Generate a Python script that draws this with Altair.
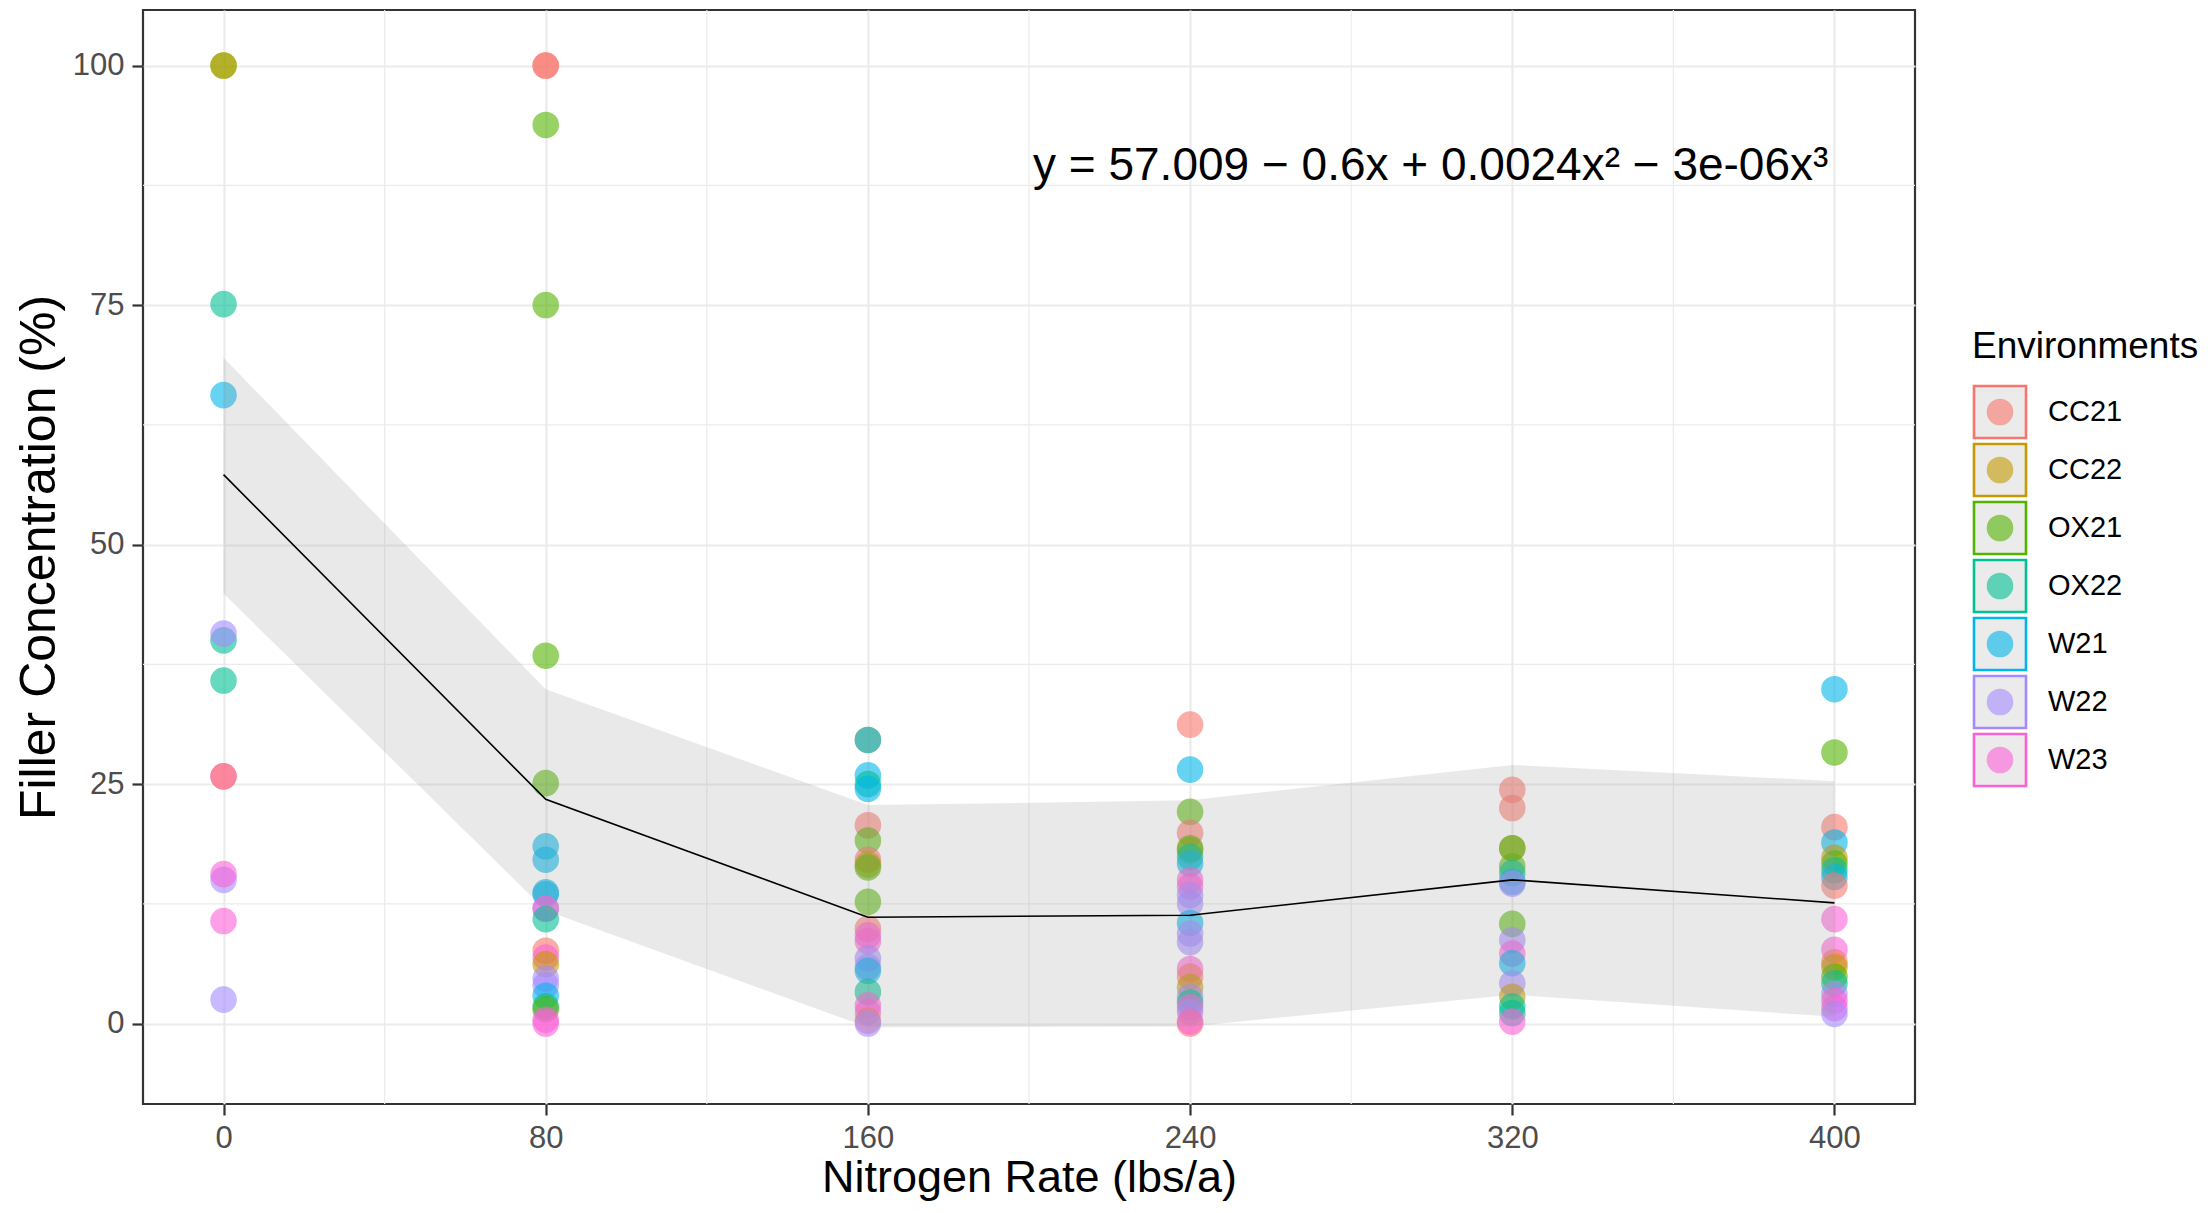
import altair as alt
import pandas as pd

# ---------------- data ----------------
envs = ["CC21", "CC22", "OX21", "OX22", "W21", "W22", "W23"]
env_colors = ["#F8766D", "#C49A00", "#53B400", "#00C094", "#00B6EB", "#A58AFF", "#FB61D7"]

rates = [0, 80, 160, 240, 320, 400]

r0_env = ["OX21", "CC22", "OX22", "W21", "OX22", "W22", "OX22", "W23", "CC21", "W22", "W23", "W23", "W22"]
r0_val = [100, 100, 75.1, 65.6, 40.0, 40.7, 35.8, 25.8, 25.8, 15.0, 15.6, 10.7, 2.5]

r80_env = ["CC21", "CC21", "OX21", "OX21", "OX21", "OX21", "W21", "W21", "W21", "W21", "W22", "W23",
           "OX22", "CC21", "W23", "CC22", "W22", "W22", "W21", "OX22", "OX21", "W23", "W23"]
r80_val = [100, 100, 93.8, 75.0, 38.4, 25.1, 18.5, 17.1, 13.7, 13.5, 12.0, 12.0,
           10.9, 7.6, 6.9, 6.2, 4.7, 4.0, 2.9, 1.8, 1.5, 0.4, 0.0]

r160_env = ["CC22", "W21", "W21", "OX22", "W21", "CC21", "OX21", "CC21", "CC22", "OX21", "OX21", "CC21",
            "W23", "W23", "W22", "W22", "W21", "OX22", "W23", "W23", "CC21", "W22"]
r160_val = [29.6, 29.6, 25.9, 25.0, 24.5, 20.7, 19.1, 17.1, 16.6, 16.3, 12.7, 9.9,
            9.2, 8.6, 6.8, 5.9, 5.5, 3.3, 1.9, 1.2, 0.3, 0.0]

r240_env = ["CC21", "W21", "OX21", "CC21", "CC22", "OX21", "OX22", "W21", "W23", "W23", "W22", "W22",
            "W21", "W22", "W22", "W23", "CC21", "CC22", "W22", "OX22", "W23", "W22", "CC21", "W23"]
r240_val = [31.2, 26.5, 22.1, 19.9, 18.1, 18.3, 17.4, 16.7, 15.0, 14.3, 13.4, 12.5,
            10.5, 9.4, 8.5, 5.7, 4.9, 3.8, 2.8, 2.2, 1.7, 1.2, 0.0, 0.2]

r320_env = ["CC21", "CC21", "CC22", "OX21", "OX21", "OX22", "W21", "W22", "OX21", "W22", "W23", "W21",
            "W22", "CC22", "OX22", "OX22", "W23"]
r320_val = [24.4, 22.5, 18.3, 18.3, 16.4, 15.7, 14.8, 14.6, 10.4, 8.7, 7.3, 6.3,
            4.2, 2.8, 1.8, 1.1, 0.2]

r400_env = ["W21", "OX21", "CC21", "W21", "CC22", "OX21", "OX22", "W21", "CC21", "W23", "W23", "CC21",
            "CC22", "OX21", "OX22", "W22", "W23", "W23", "W22"]
r400_val = [34.9, 28.3, 20.5, 18.9, 17.3, 16.7, 16.0, 15.3, 14.4, 10.9, 7.7, 6.4,
            5.9, 4.9, 4.2, 3.1, 2.4, 1.6, 1.0]

# fitted curve and confidence band
fit_x = [0, 80, 160, 240, 320, 400]
fit_y = [57.3, 23.4, 11.1, 11.3, 15.0, 12.6]
fit_lo = [44.9, 11.8, -0.4, -0.3, 3.0, 0.7]
fit_hi = [69.5, 34.9, 22.8, 23.3, 27.0, 25.3]

equation = "y = 57.009 \u2212 0.6x + 0.0024x\u00b2 \u2212 3e-06x\u00b3"
eq_x = [201]
eq_y = [88.1]

x_major = [0, 80, 160, 240, 320, 400]
x_minor = [40, 120, 200, 280, 360]
y_major = [0, 25, 50, 75, 100]
y_minor = [12.5, 37.5, 62.5, 87.5]

# ---------------- tables ----------------
rows = []
for r, e_list, v_list in zip(rates, [r0_env, r80_env, r160_env, r240_env, r320_env, r400_env],
                             [r0_val, r80_val, r160_val, r240_val, r320_val, r400_val]):
    for e, v in zip(e_list, v_list):
        rows.append({"N": r, "F": v, "env": e})
pts = pd.DataFrame(rows)
fit = pd.DataFrame({"N": fit_x, "F": fit_y, "lo": fit_lo, "hi": fit_hi})
eq = pd.DataFrame({"N": eq_x, "F": eq_y, "t": [equation]})
xmin = pd.DataFrame({"N": x_minor})
ymin = pd.DataFrame({"F": y_minor})
leg = pd.DataFrame({"env": envs})

FONT = "Liberation Sans"
x_scale = alt.Scale(domain=[-20, 420], nice=False, zero=False)
y_scale = alt.Scale(domain=[-8.4, 105.8], nice=False, zero=False)
c_scale = alt.Scale(domain=envs, range=env_colors)

x_axis = alt.Axis(values=x_major, title="Nitrogen Rate (lbs/a)", labelPadding=8, titlePadding=2,
                  titleFontSize=45)
y_axis = alt.Axis(values=y_major, title="Filler Concentration (%)", labelPadding=8, titlePadding=8)


def X(field="N"):
    return alt.X(f"{field}:Q", scale=x_scale, axis=x_axis)


def Y(field="F"):
    return alt.Y(f"{field}:Q", scale=y_scale, axis=y_axis)


minor_x = alt.Chart(xmin).mark_rule(color="#EBEBEB", strokeWidth=1.2).encode(x=X())
minor_y = alt.Chart(ymin).mark_rule(color="#EBEBEB", strokeWidth=1.2).encode(y=Y())

points = alt.Chart(pts).mark_circle(size=707, opacity=0.6).encode(
    x=X(), y=Y(), color=alt.Color("env:N", scale=c_scale, legend=None)
)

band = alt.Chart(fit).mark_area(color="#999999", opacity=0.22).encode(
    x=X(), y=Y("lo"), y2="hi:Q"
)

line = alt.Chart(fit).mark_line(color="black", strokeWidth=1.6).encode(x=X(), y=Y())

eq_text = alt.Chart(eq).mark_text(
    align="left", baseline="alphabetic", fontSize=46, font=FONT, color="black"
).encode(x=X(), y=Y(), text="t:N")

main = alt.layer(minor_x, minor_y, points, band, line, eq_text)

# ---------------- legend (drawn as marks to get boxed keys) ----------------
leg_y = alt.Y("env:N", scale=alt.Scale(type="point", domain=envs, range=[402, 750], padding=0), axis=None)

leg_box = alt.Chart(leg).mark_square(size=2704, fill="#EBEBEB", strokeWidth=2.6, opacity=1).encode(
    x=alt.value(1857), y=leg_y,
    stroke=alt.Stroke("env:N", scale=c_scale, legend=None),
)
leg_dot = alt.Chart(leg).mark_circle(size=707, opacity=0.6).encode(
    x=alt.value(1857), y=leg_y, color=alt.Color("env:N", scale=c_scale, legend=None)
)
leg_lab = alt.Chart(leg).mark_text(align="left", baseline="middle", fontSize=29, font=FONT, color="black").encode(
    x=alt.value(1905), y=leg_y, text="env:N"
)
leg_title = alt.Chart(pd.DataFrame({"t": ["Environments"]})).mark_text(
    align="left", baseline="middle", fontSize=37, font=FONT, color="black"
).encode(x=alt.value(1829), y=alt.value(337), text="t:N")

legend = alt.layer(leg_box, leg_dot, leg_lab, leg_title)

chart = alt.layer(main, legend).resolve_scale(y="independent").properties(
    width=1772,
    height=1094,
    background="white",
    autosize=alt.AutoSizeParams(type="none"),
    padding={"left": 135, "top": 2, "right": 289, "bottom": 101},
).configure_view(
    stroke="#333333", strokeWidth=2.2
).configure_axis(
    domain=False,
    grid=True,
    gridColor="#EBEBEB",
    gridWidth=2.2,
    tickColor="#333333",
    tickSize=11,
    tickWidth=2.2,
    labelColor="#4D4D4D",
    labelFontSize=31,
    labelFont=FONT,
    titleFont=FONT,
    titleFontSize=50,
    titleFontWeight="normal",
    titleColor="black",
)

chart.save("out.html", embed_options={"renderer": "svg", "actions": False})
